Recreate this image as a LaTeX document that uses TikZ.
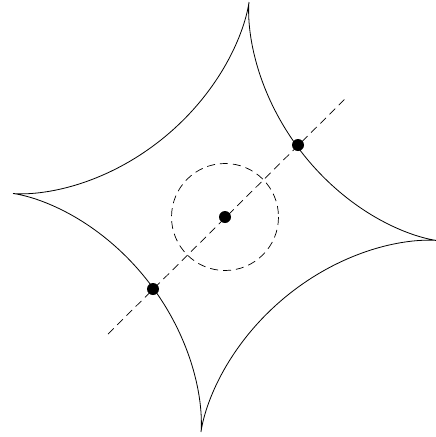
\documentclass[tikz,border=0pt]{standalone}
\begin{document}
\begin{tikzpicture}[x=1pt,y=-1pt,
  declare function={pc(\a)=cos(\a)*(abs(cos(\a))+0.000001)^2.2;
                    ps(\a)=sin(\a)*(abs(sin(\a))+0.000001)^2.2;},
  curve/.style={line width=0.8pt},
  dashline/.style={line width=0.7pt,dash pattern=on 8pt off 5pt},
  dotnode/.style={circle,fill=black,inner sep=0pt,minimum size=12pt}]
\useasboundingbox (0,0) rectangle (436,437);
% astroid-like caustic (linear image of a generalised astroid)
\draw[curve] plot[domain=0:360,samples=721,variable=\t]
  ({225+212*pc(\t)+24*ps(\t)},
   {217+23.5*pc(\t)-215*ps(\t)});
\coordinate (lineA) at (108,334);
\coordinate (lineB) at (347,97);
\coordinate (c) at (225,217);
\draw[dashline] (c) circle[radius=53.5];
\draw[dashline] (lineA) -- (lineB);
\node[dotnode] (p1) at (153,289) {};
\node[dotnode] (p0) at (c) {};
\node[dotnode] (p2) at (298,145) {};
\end{tikzpicture}
\end{document}
